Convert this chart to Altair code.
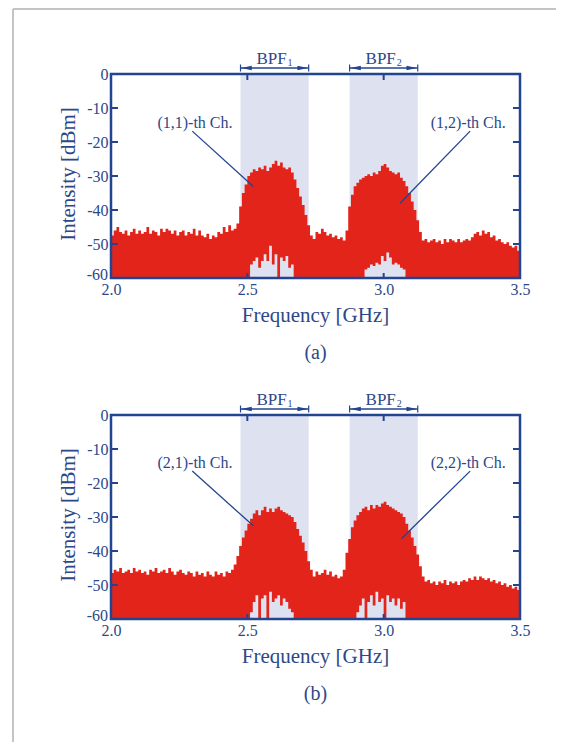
import altair as alt
import numpy as np
import pandas as pd

# ---------------- data ----------------
FREQ_START = 2.0
FREQ_STEP = 0.01
N_POINTS = 151
freq = [round(FREQ_START + FREQ_STEP * i, 2) for i in range(N_POINTS)]

# upper envelope, panel (a), 2.00 .. 3.50 GHz step 0.01
upper_a = [
    -47.5, -46.0, -45.0, -46.5, -47.0, -46.0, -47.5, -46.5, -45.5, -47.0,
    -46.0, -47.0, -46.5, -45.0, -47.0, -46.0, -46.5, -47.5, -45.5, -46.5,
    -45.5, -46.0, -47.0, -46.0, -47.5, -46.5, -46.0, -47.5, -46.5, -47.0,
    -45.5, -47.5, -46.0, -47.5, -48.0, -47.0, -48.5, -47.5, -48.0, -46.5,
    -47.0, -45.0, -46.5, -44.5, -46.0, -45.5, -44.0, -39.0, -35.0, -32.5,
    -30.0, -29.0, -28.0, -28.5, -27.5, -28.0, -27.0, -28.5, -27.5, -26.5,
    -25.5, -27.0, -26.0, -27.5, -28.0, -27.5, -29.0, -31.0, -33.5, -36.0,
    -38.5, -41.5, -44.5, -47.5, -48.5, -46.5, -47.0, -45.5, -46.5, -47.5,
    -47.0, -48.0, -47.5, -48.5, -48.0, -49.0, -46.0, -39.0, -35.5, -33.0,
    -32.0, -31.0, -30.5, -30.0, -29.5, -30.0, -29.0, -29.5, -28.5, -27.0,
    -26.5, -27.5, -28.5, -29.0, -29.5, -29.0, -30.5, -31.5, -33.0, -35.0,
    -37.5, -40.0, -43.0, -46.5, -49.0, -48.5, -49.5, -49.0, -48.5, -49.5,
    -49.0, -50.0, -48.5, -49.5, -48.5, -49.0, -49.5, -48.5, -49.5, -49.0,
    -48.5, -49.0, -48.0, -47.0, -46.5, -47.5, -46.0, -47.0, -46.5, -48.0,
    -47.5, -49.0, -48.5, -49.5, -50.0, -49.5, -50.5, -51.0, -50.5, -52.0,
    -52.0,
]

# upper envelope, panel (b)
upper_b = [
    -46.5, -45.5, -46.0, -45.0, -46.5, -46.0, -45.5, -46.5, -45.0, -46.0,
    -45.5, -46.5, -46.0, -47.0, -45.5, -46.0, -45.0, -46.5, -46.0, -45.5,
    -46.5, -45.0, -46.0, -47.0, -46.0, -45.5, -46.5, -47.0, -46.0, -46.5,
    -47.5, -46.0, -47.0, -46.5, -47.5, -46.0, -47.0, -47.5, -46.0, -47.0,
    -46.5, -47.5, -46.0, -46.5, -45.5, -44.0, -41.5, -38.5, -36.0, -34.0,
    -32.0, -30.5, -29.0, -28.0, -29.5, -28.0, -27.0, -28.5, -27.5, -28.5,
    -27.5, -27.0, -28.0, -28.5, -29.0, -29.5, -30.0, -31.5, -33.5, -35.5,
    -37.5, -40.0, -43.0, -45.5, -47.5, -46.0, -47.0, -46.5, -45.5, -47.0,
    -46.0, -47.5, -47.0, -48.0, -47.5, -45.5, -40.5, -36.5, -33.0, -31.0,
    -29.5, -28.5, -27.5, -27.0, -28.0, -26.5, -27.5, -26.5, -27.0, -26.0,
    -25.5, -26.5, -27.0, -27.5, -28.0, -28.5, -29.0, -30.0, -32.0, -34.0,
    -36.0, -38.5, -41.0, -44.5, -47.5, -49.0, -48.5, -49.5, -49.0, -50.0,
    -49.0, -49.5, -48.5, -50.0, -49.0, -49.5, -49.0, -50.0, -49.0, -48.5,
    -49.0, -48.0, -48.5, -47.5, -48.5, -47.5, -48.0, -48.5, -48.0, -49.0,
    -48.5, -49.5, -49.0, -50.0, -49.5, -50.5, -50.0, -51.0, -50.5, -51.5,
    -51.5,
]

# lower envelope (floor is -60) : notches under the channels
floor_level = -60.0
notch_a1_start, notch_a1 = 2.51, [-56, -55, -54, -57, -55, -53, -55, -50.5, -56, -53, -60, -54, -55, -53.5, -57, -56]
notch_a2_start, notch_a2 = 2.93, [-57.5, -57, -56, -56.5, -55.5, -56, -53.5, -55, -52.5, -54, -56, -55.5, -56, -57, -57.5]
notch_b1_start, notch_b1 = 2.51, [-58, -55, -53, -60, -54, -53, -60, -52, -55, -54, -53, -56, -54, -55, -57, -58]
notch_b2_start, notch_b2 = 2.90, [-58, -56, -54, -60, -55, -53, -56, -52, -55, -54, -60, -53, -55, -54, -56, -54, -57, -55]

bpf_names = ["BPF", "BPF"]
bpf_subs = ["1", "2"]
bpf_lo = [2.475, 2.875]
bpf_hi = [2.725, 3.125]
bpf_center = [2.6, 3.0]

labels_a = ["(1,1)-th Ch.", "(1,2)-th Ch."]
labels_b = ["(2,1)-th Ch.", "(2,2)-th Ch."]
label_x = [2.308, 3.310]
label_y_a = [-14.4, -14.4]
label_y_b = [-14.0, -14.0]
lead_x1 = [2.298, 3.317]
lead_y1_a = [-16.8, -16.8]
lead_y1_b = [-16.5, -16.5]
lead_x2_a = [2.522, 3.060]
lead_y2_a = [-33.1, -38.0]
lead_x2_b = [2.522, 3.066]
lead_y2_b = [-32.6, -36.3]

x_tick_values = [2.0, 2.5, 3.0, 3.5]
y_tick_values = [-50, -40, -30, -20, -10, 0]
y_bottom_label = [-60]
inner_x_ticks = [2.5, 3.0]
inner_y_ticks = [-50, -40, -30, -20, -10]

# ---------------- style ----------------
W, H = 409, 204
FONT = "Liberation Serif"
RED = "#e3241b"
SHADE = "#dee2f0"
NAVY = "#23458f"
TXT = "#2d4889"
GRAY = "#c4c4c4"


def lower_trace(notches):
    lo = [floor_level] * N_POINTS
    for start, vals in notches:
        i0 = int(round((start - FREQ_START) / FREQ_STEP))
        for k, v in enumerate(vals):
            lo[i0 + k] = float(v)
    return lo


xs = alt.Scale(domain=[2.0, 3.5], nice=False, zero=False)
ys = alt.Scale(domain=[-60, 0], nice=False, zero=False)
xax = alt.Axis(values=x_tick_values, format=".1f", tickSize=0, domain=False, grid=False,
               labelFlush=False, labelOverlap=False, labelPadding=3, labelFont=FONT,
               labelFontSize=16, labelColor=TXT, title=None)
yax = alt.Axis(values=y_tick_values, labelExpr="'' + datum.value", tickSize=0, domain=False,
               grid=False, labelFlush=False, labelOverlap=False, labelPadding=3, labelFont=FONT,
               labelFontSize=16, labelColor=TXT, title=None)


def X(field):
    return alt.X(field, type="quantitative", scale=xs, axis=xax)


def Y(field):
    return alt.Y(field, type="quantitative", scale=ys, axis=yax)


def panel(hi, lo, labels, lab_y, ly1, lx2, ly2, caption, with_border):
    df = pd.DataFrame({"f": freq, "hi": hi, "lo": lo})
    bpf = pd.DataFrame({"lo": bpf_lo, "hi": bpf_hi, "c": bpf_center, "n": bpf_names, "s": bpf_subs})
    ann = pd.DataFrame({"x": label_x, "y": lab_y, "t": labels})
    lead = pd.DataFrame({"x": lead_x1, "y": ly1, "x2": lx2, "y2": ly2})
    one = pd.DataFrame({"k": [0]})
    xt = pd.DataFrame({"v": inner_x_ticks})
    yt = pd.DataFrame({"v": inner_y_ticks})
    yb = pd.DataFrame({"v": y_bottom_label, "t": [str(v) for v in y_bottom_label]})

    shade = alt.Chart(bpf).mark_rect(color=SHADE).encode(
        x=X("lo"), x2="hi", y=alt.value(0), y2=alt.value(H))
    area = alt.Chart(df).mark_area(interpolate="step-after", color=RED, clip=True).encode(
        x=X("f"), y=Y("hi"), y2="lo")
    leaders = alt.Chart(lead).mark_rule(color=NAVY, strokeWidth=1.3).encode(
        x=X("x"), y=Y("y"), x2="x2", y2="y2")
    texts = alt.Chart(ann).mark_text(font=FONT, fontSize=16, color=TXT, baseline="middle").encode(
        x=X("x"), y=Y("y"), text="t:N")

    # bottom y label, nudged up as in the original
    ybl = alt.Chart(yb).mark_text(font=FONT, fontSize=16, color=TXT, baseline="middle",
                                  align="right", dy=-3).encode(
        x=alt.value(-3), y=Y("v"), text="t:N")

    # BPF arrows above the plot
    arr_line = alt.Chart(bpf).mark_rule(color=NAVY, strokeWidth=1.5).encode(
        x=X("lo"), x2="hi", y=alt.value(-6))
    arr_end_l = alt.Chart(bpf).mark_rule(color=NAVY, strokeWidth=1.2).encode(
        x=X("lo"), y=alt.value(-9.5), y2=alt.value(-2.5))
    arr_end_r = alt.Chart(bpf).mark_rule(color=NAVY, strokeWidth=1.2).encode(
        x=X("hi"), y=alt.value(-9.5), y2=alt.value(-2.5))
    head_l = alt.Chart(bpf).mark_point(shape="M-1,0L1,-0.42L1,0.42Z", filled=True, size=110,
                                       color=NAVY, opacity=1, xOffset=6).encode(
        x=X("lo"), y=alt.value(-6))
    head_r = alt.Chart(bpf).mark_point(shape="M1,0L-1,-0.42L-1,0.42Z", filled=True, size=110,
                                       color=NAVY, opacity=1, xOffset=-6).encode(
        x=X("hi"), y=alt.value(-6))
    bpf_txt = alt.Chart(bpf).mark_text(font=FONT, fontSize=17, color=TXT, baseline="alphabetic",
                                       align="center", dx=-3).encode(
        x=X("c"), y=alt.value(-10.5), text="n:N")
    bpf_sub = alt.Chart(bpf).mark_text(font=FONT, fontSize=10, color=TXT, baseline="alphabetic",
                                       align="left", dx=13).encode(
        x=X("c"), y=alt.value(-8), text="s:N")

    # inward ticks
    t_left = alt.Chart(yt).mark_rule(color=NAVY, strokeWidth=2).encode(
        y=Y("v"), x=alt.value(0), x2=alt.value(7))
    t_right = alt.Chart(yt).mark_rule(color=NAVY, strokeWidth=2).encode(
        y=Y("v"), x=alt.value(W - 7), x2=alt.value(W))
    t_top = alt.Chart(xt).mark_rule(color=NAVY, strokeWidth=2).encode(
        x=X("v"), y=alt.value(0), y2=alt.value(6))
    t_bot = alt.Chart(xt).mark_rule(color=NAVY, strokeWidth=2).encode(
        x=X("v"), y=alt.value(H - 5), y2=alt.value(H))
    frame = alt.Chart(one).mark_rect(fillOpacity=0, stroke=NAVY, strokeWidth=2.5).encode(
        x=alt.value(0), x2=alt.value(W), y=alt.value(0), y2=alt.value(H))

    ytitle = alt.Chart(one).mark_text(text="Intensity [dBm]", font=FONT, fontSize=21, color=TXT,
                                      angle=270, baseline="middle", align="center").encode(
        x=alt.value(-42), y=alt.value(H / 2 - 2))
    xtitle = alt.Chart(one).mark_text(text="Frequency [GHz]", font=FONT, fontSize=21, color=TXT,
                                      baseline="middle", align="center").encode(
        x=alt.value(W / 2), y=alt.value(242))
    cap = alt.Chart(one).mark_text(text=caption, font=FONT, fontSize=20, color=TXT,
                                   baseline="middle", align="center").encode(
        x=alt.value(W / 2), y=alt.value(279))

    layers = [shade, area, leaders, texts, ybl, arr_line, arr_end_l, arr_end_r, head_l, head_r,
              bpf_txt, bpf_sub, t_left, t_right, t_top, t_bot, frame, ytitle, xtitle, cap]
    if with_border:
        b_top = alt.Chart(one).mark_rule(color=GRAY, strokeWidth=2).encode(
            x=alt.value(-98), x2=alt.value(445), y=alt.value(-65))
        b_left = alt.Chart(one).mark_rule(color=GRAY, strokeWidth=2).encode(
            x=alt.value(-98), y=alt.value(-65), y2=alt.value(668))
        layers += [b_top, b_left]
    return alt.layer(*layers).properties(width=W, height=H)


lo_a = lower_trace([(notch_a1_start, notch_a1), (notch_a2_start, notch_a2)])
lo_b = lower_trace([(notch_b1_start, notch_b1), (notch_b2_start, notch_b2)])

pa = panel(upper_a, lo_a, labels_a, label_y_a, lead_y1_a, lead_x2_a, lead_y2_a, "(a)", True)
pb = panel(upper_b, lo_b, labels_b, label_y_b, lead_y1_b, lead_x2_b, lead_y2_b, "(b)", False)

chart = alt.VConcatChart(vconcat=[pa, pb], spacing=137, bounds="flush").properties(
    padding={"left": 4, "top": 0, "right": 0, "bottom": 0},
    background="white",
).configure_view(stroke=None)

chart.save("out.html", embed_options={"renderer": "svg", "actions": False})
